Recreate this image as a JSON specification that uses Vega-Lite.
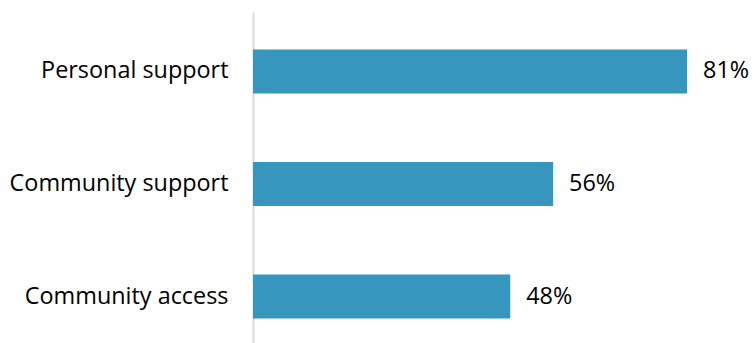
{
  "$schema": "https://vega.github.io/schema/vega-lite/v6.json",
  "width": 500,
  "height": 344,
  "autosize": {"type": "none"},
  "padding": {"left": 253, "top": 12, "right": 1, "bottom": 0},
  "background": "white",
  "config": {"view": {"stroke": null}},
  "data": {
    "values": [
      {"category": "Personal support", "value": 0.81},
      {"category": "Community support", "value": 0.56},
      {"category": "Community access", "value": 0.48}
    ]
  },
  "encoding": {
    "y": {
      "field": "category",
      "type": "nominal",
      "sort": null,
      "scale": {"paddingInner": 0.609, "paddingOuter": 0.333},
      "axis": {
        "title": null,
        "ticks": false,
        "domainColor": "#d9d9d9",
        "domainWidth": 2,
        "labelFont": "Open Sans",
        "labelFontSize": 23.4,
        "labelColor": "#000000",
        "labelPadding": 25,
        "labelLimit": 300
      }
    },
    "x": {
      "field": "value",
      "type": "quantitative",
      "scale": {"domain": [0, 0.933], "nice": false},
      "axis": null
    }
  },
  "layer": [
    {"mark": {"type": "bar", "color": "#3796BD", "x2": 1.5}},
    {
      "mark": {"type": "text", "align": "left", "baseline": "middle", "dx": 16, "font": "Open Sans", "fontSize": 23.4, "color": "#000000"},
      "encoding": {"text": {"field": "value", "type": "quantitative", "format": ".0%"}}
    }
  ]
}
